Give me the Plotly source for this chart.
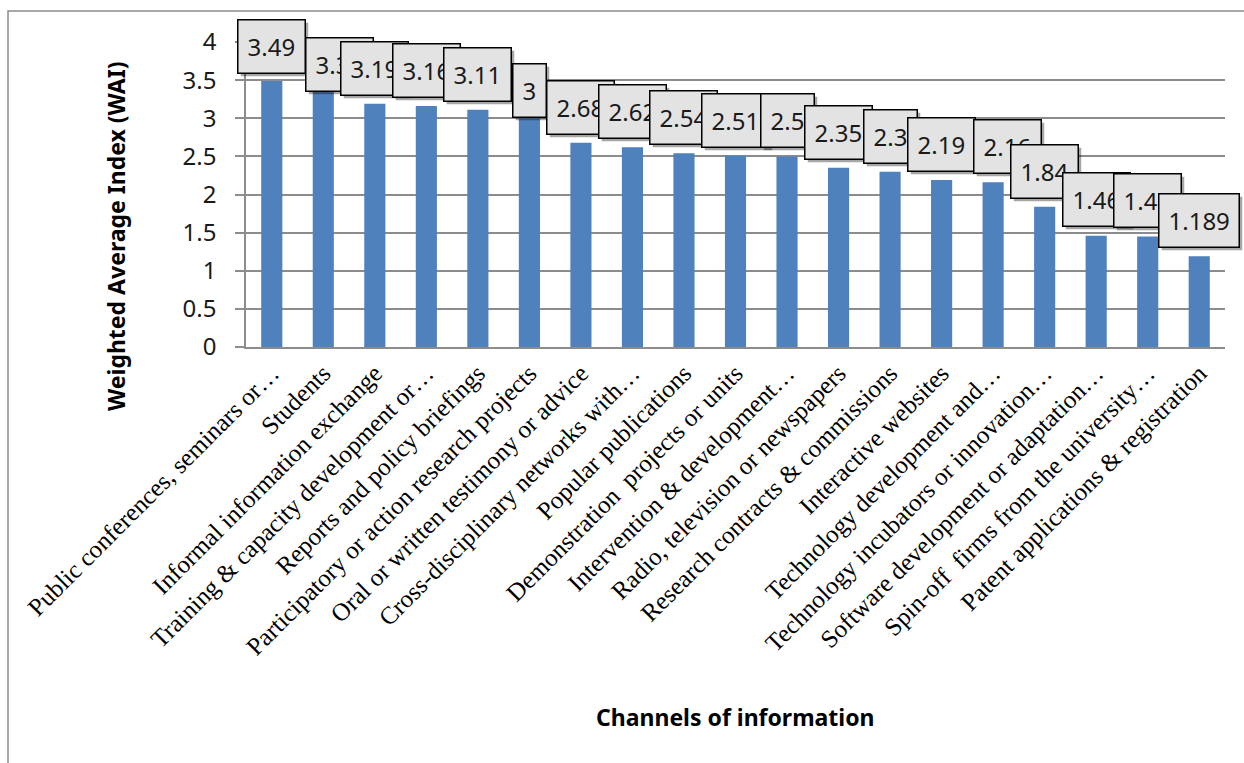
import plotly.graph_objects as go

# Channels of information and their weighted average index
channels = [
    "Public conferences, seminars or…",
    "Students",
    "Informal information exchange",
    "Training & capacity development or…",
    "Reports and policy briefings",
    "Participatory or action research projects",
    "Oral or written testimony or advice",
    "Cross-disciplinary networks with…",
    "Popular publications",
    "Demonstration  projects or units",
    "Intervention & development…",
    "Radio, television or newspapers",
    "Research contracts & commissions",
    "Interactive websites",
    "Technology development and…",
    "Technology incubators or innovation…",
    "Software development or adaptation…",
    "Spin-off  firms from the university…",
    "Patent applications & registration",
]
wai = [3.49, 3.35, 3.19, 3.16, 3.11, 3, 2.68, 2.62, 2.54, 2.51, 2.5,
       2.35, 2.3, 2.19, 2.16, 1.84, 1.46, 1.45, 1.189]
y_ticks = [0, 0.5, 1, 1.5, 2, 2.5, 3, 3.5, 4]

# pixel nudges for the value callouts (x, y)
callout_dx = [0, 16, 0, 0, 0, 0, 0, 0, 0, 0, 0, 0, 0, 0, 14, 0, 0, 0, 0]
callout_dy = [7, 0, 8, 8, 8, 0, 8, 8, 8, 8, 8, 8, 8, 8, 8, 8, 9, 8, 8]

BAR = "#4F81BD"
GRID = "#8c8c8c"

fig = go.Figure(go.Bar(
    x=channels, y=wai, marker=dict(color=BAR, line=dict(width=0)),
    hoverinfo="x+y",
))

W, H = 1244, 763
L, R, T, B = 246, 19, 42, 416
pw, ph = W - L - R, H - T - B


def px_x(p):
    return (p - L) / pw


def px_y(p):
    return (H - B - p) / ph


annotations = []
for i, (c, v) in enumerate(zip(channels, wai)):
    label = f"{v:g}"
    common = dict(x=c, y=v, xref="x", yref="y", text=label, showarrow=False,
                  yanchor="bottom", height=34, borderwidth=1.5, borderpad=9)
    # drop shadow behind the callout
    annotations.append(dict(
        common, xshift=callout_dx[i] + 3, yshift=callout_dy[i] - 3,
        font=dict(family="Noto Sans", size=24, color="rgba(0,0,0,0)"),
        bgcolor="rgba(0,0,0,0.35)", bordercolor="rgba(0,0,0,0)",
    ))
    annotations.append(dict(
        common, xshift=callout_dx[i], yshift=callout_dy[i],
        font=dict(family="Noto Sans", size=24, color="#1a1a1a"),
        bgcolor="#e3e3e3", bordercolor="#000000",
    ))

annotations.append(dict(
    text="<b>Weighted Average Index (WAI)</b>", textangle=-90,
    xref="paper", yref="paper", x=px_x(116), y=px_y(236),
    showarrow=False, xanchor="center", yanchor="middle",
    font=dict(family="Noto Sans", size=23, color="#000000"),
))
annotations.append(dict(
    text="<b>Channels of information</b>",
    xref="paper", yref="paper", x=0.5, y=px_y(717),
    showarrow=False, xanchor="center", yanchor="middle",
    font=dict(family="Noto Sans", size=23, color="#000000"),
))

fig.update_layout(
    width=W, height=H,
    margin=dict(l=L, r=R, t=T, b=B, autoexpand=False),
    paper_bgcolor="white", plot_bgcolor="white",
    showlegend=False, bargap=0.59,
    annotations=annotations,
    shapes=[dict(
        type="rect", xref="paper", yref="paper",
        x0=px_x(8), x1=px_x(1252), y0=px_y(11), y1=px_y(775),
        line=dict(color="#8c8c8c", width=1.5), fillcolor="rgba(0,0,0,0)",
        layer="below",
    )],
    xaxis=dict(
        type="category", range=[-0.5, len(channels) - 0.5],
        tickangle=-45, showgrid=False, ticks="",
        showline=True, linecolor=GRID, linewidth=1.5,
        tickfont=dict(family="Liberation Serif", size=25, color="#000000"),
        automargin=False,
    ),
    yaxis=dict(
        range=[0, 4], tickvals=y_ticks, ticktext=[f"{t:g}" for t in y_ticks],
        showgrid=True, gridcolor=GRID, gridwidth=1.5,
        zeroline=False, showline=True, linecolor=GRID, linewidth=1.5,
        ticks="outside", ticklen=9, tickcolor=GRID, tickwidth=1.5,
        ticklabelstandoff=14,
        tickfont=dict(family="Noto Sans", size=24, color="#1a1a1a"),
        automargin=False,
    ),
)

fig.write_html("out.html")
